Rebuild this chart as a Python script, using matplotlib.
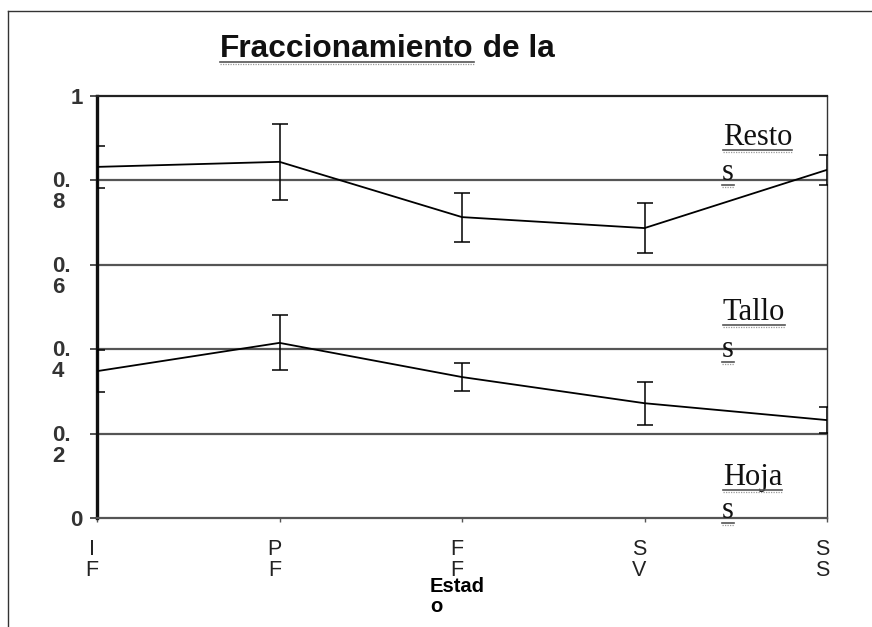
import matplotlib
matplotlib.use("Agg")
import matplotlib.pyplot as plt
from matplotlib.lines import Line2D
from matplotlib.transforms import ScaledTranslation

# fractions of biomass (cumulative): Hoja boundary and Hoja+Tallo boundary
stage_labels = ["I\nF", "P\nF", "F\nF", "S\nV", "S\nS"]
hoja = [0.348, 0.415, 0.334, 0.272, 0.232]
hoja_err = [0.050, 0.065, 0.033, 0.051, 0.030]
hoja_tallo = [0.832, 0.844, 0.713, 0.687, 0.825]
hoja_tallo_err = [0.049, 0.090, 0.058, 0.060, 0.035]
ytick_vals = [0, 0.2, 0.4, 0.6, 0.8, 1.0]
ytick_labels = ["0", "0.\n2", "0.\n4", "0.\n6", "0.\n8", "1"]

W, H = 872, 627


def fx(x):
    return x / W


def fy(y):
    return 1 - y / H


fig = plt.figure(figsize=(W / 100, H / 100), dpi=100)
fig.patch.set_facecolor("white")
ax = fig.add_axes([fx(97), fy(518), (827 - 97) / W, (518 - 96) / H])

xs = list(range(len(stage_labels)))
for vals, errs in [(hoja, hoja_err), (hoja_tallo, hoja_tallo_err)]:
    ax.errorbar(xs, vals, yerr=errs, color="black", lw=1.3, elinewidth=1.1,
                capsize=5.5, capthick=1.1, zorder=4)

ax.set_xlim(0, 4)
ax.set_ylim(0, 1)
for v in ytick_vals[1:-1]:
    ax.axhline(v, color="#555555", lw=1.6, zorder=2)

ax.spines["left"].set_linewidth(2.4)
ax.spines["left"].set_color("#111111")
ax.spines["top"].set_linewidth(1.6)
ax.spines["top"].set_color("#222222")
ax.spines["right"].set_linewidth(1.0)
ax.spines["right"].set_color("#333333")
ax.spines["bottom"].set_linewidth(1.6)
ax.spines["bottom"].set_color("#555555")

ax.set_xticks(xs)
ax.set_xticklabels(stage_labels, family="Liberation Sans", fontsize=15.5,
                   color="#222222", linespacing=1.0)
ax.tick_params(axis="x", length=3, width=1, color="#555555", pad=12)
for lab in ax.get_xticklabels():
    lab.set_transform(lab.get_transform() + ScaledTranslation(-5 / 100, 0, fig.dpi_scale_trans))

ax.set_yticks(ytick_vals)
ax.set_yticklabels(ytick_labels, family="Liberation Sans", fontsize=16,
                   fontweight="bold", color="#333333", linespacing=1.0)
ax.tick_params(axis="y", length=5, width=1.2, color="#333333", pad=14)
for lab in ax.get_yticklabels():
    if "\n" in lab.get_text():
        lab.set_verticalalignment("top")
        lab.set_multialignment("left")
        lab.set_transform(lab.get_transform() + ScaledTranslation(0, 9 / 100, fig.dpi_scale_trans))
    else:
        lab.set_transform(lab.get_transform() + ScaledTranslation(12 / 100, 0, fig.dpi_scale_trans))

# x axis label
fig.text(fx(430), fy(612), "Estad\no", family="Liberation Sans", fontsize=14.5,
         fontweight="bold", ha="left", va="baseline", linespacing=1.1)

# title
t1 = fig.text(fx(220), fy(57), "Fraccionamiento", family="Liberation Sans",
              fontsize=22.8, fontweight="bold", ha="left", va="baseline", color="#111111")
t2 = ax.annotate(" de la", xy=(1, 0), xycoords=t1, ha="left", va="bottom",
                 family="Liberation Sans", fontsize=22.8, fontweight="bold",
                 color="#111111", annotation_clip=False)

# component labels
comp = [("Resto", "s", 0.884, 0.801), ("Tallo", "s", 0.469, 0.381), ("Hoja", "s", 0.078, 0.0)]
serif_texts = []
for word, tail, yb1, yb2 in comp:
    a = ax.text(3.43, yb1, word, family="Liberation Serif", fontsize=22,
                va="baseline", ha="left", color="#111111", zorder=5)
    b = ax.text(3.425, yb2, tail, family="Liberation Serif", fontsize=22,
                va="baseline", ha="left", color="#111111", zorder=5)
    serif_texts += [(a, yb1), (b, yb2)]

fig.canvas.draw()
r = fig.canvas.get_renderer()


def underline(x0, x1, y_disp, dotted=True):
    fig.add_artist(Line2D([x0 / W, x1 / W], [y_disp / H, y_disp / H],
                          color="#555555", lw=1.2))
    if dotted:
        fig.add_artist(Line2D([x0 / W, x1 / W], [(y_disp - 2) / H, (y_disp - 2) / H],
                              color="#999999", lw=0.9, ls=(0, (1, 1))))


bb = t1.get_window_extent(r)
underline(bb.x0, bb.x1, H - 62)
for t, yb in serif_texts:
    bb = t.get_window_extent(r)
    ybase = ax.transData.transform((0, yb))[1]
    underline(bb.x0, bb.x1, ybase - 5)

# outer frame of the original figure
fig.add_artist(Line2D([fx(8), fx(8)], [fy(11), 0], color="#333333", lw=1.0))
fig.add_artist(Line2D([fx(8), 1], [fy(11), fy(11)], color="#333333", lw=1.0))

fig.savefig("out.png", dpi=100, facecolor="white")
